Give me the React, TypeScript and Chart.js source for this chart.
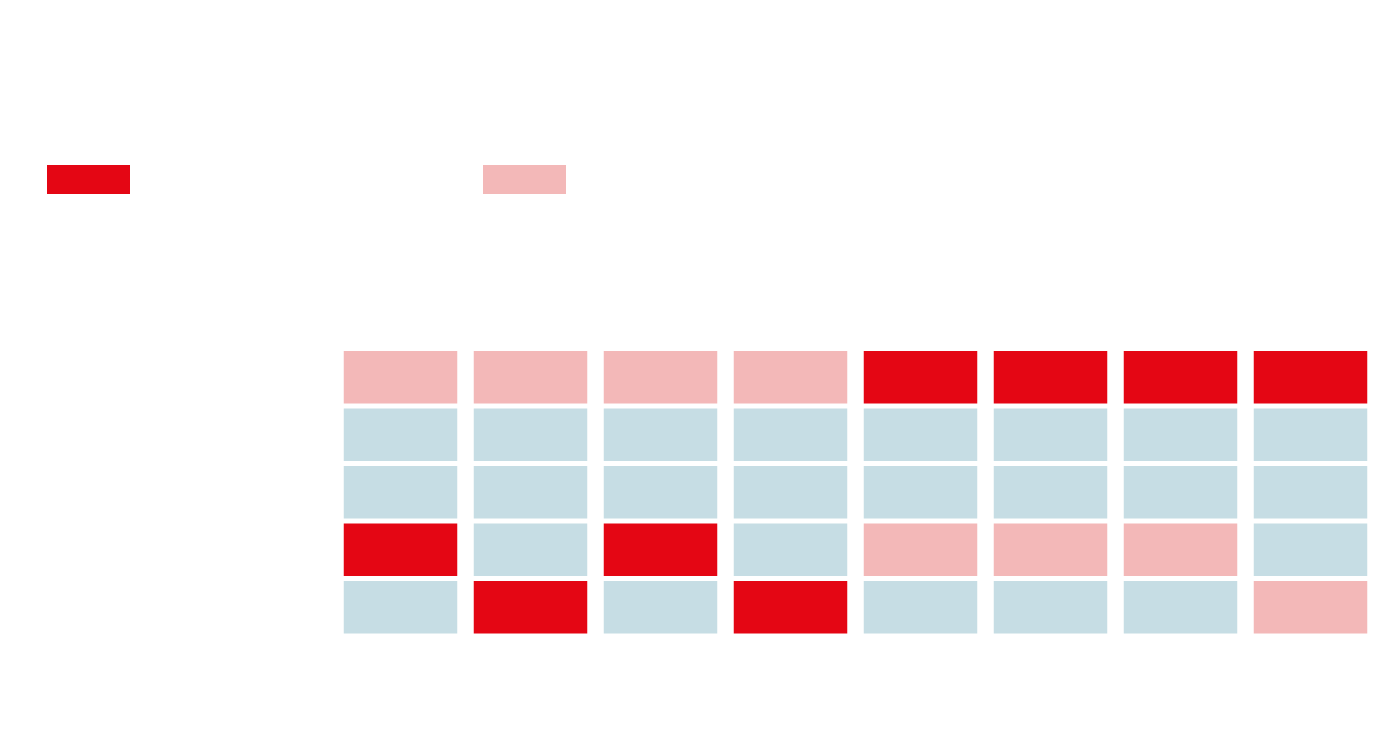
import React, { useEffect, useRef } from "react";
import { Chart, registerables } from "chart.js";

Chart.register(...registerables);

// Categories (columns) and rows of the grid, top row first
const columnLabels = ["1", "2", "3", "4", "5", "6", "7", "8"];
const rowLabels = ["Row 1", "Row 2", "Row 3", "Row 4", "Row 5"];

// For every column: the row (0 = top) holding the highest value, and the one holding the second highest
const firstPlaceRow = [3, 4, 3, 4, 0, 0, 0, 0];
const secondPlaceRow = [0, 0, 0, 0, 3, 3, 3, 4];

// Each cell counts as one unit in its column's stack
const cellUnits = [1, 1, 1, 1, 1, 1, 1, 1];

const RED = "#E40614";
const PINK = "#F3B8B8";
const BLUE = "#C6DDE4";
const legendColors = [RED, PINK];

const swatchLegend = {
  id: "swatchLegend",
  afterDraw(chart: any) {
    const ctx = chart.ctx;
    ctx.save();
    legendColors.forEach((c, i) => {
      ctx.fillStyle = c;
      ctx.fillRect(47 + i * 436, 165, 83, 29);
    });
    ctx.restore();
  },
};

export default function App() {
  const ref = useRef<HTMLCanvasElement | null>(null);

  useEffect(() => {
    if (!ref.current) return;
    const datasets = rowLabels.map((label, r) => ({
      label,
      data: cellUnits.slice(0, columnLabels.length),
      backgroundColor: columnLabels.map((_, c) =>
        firstPlaceRow[c] === r ? RED : secondPlaceRow[c] === r ? PINK : BLUE
      ),
      borderColor: "#ffffff",
      borderWidth: { top: 2.5, bottom: 2.5, left: 0, right: 0 },
      borderSkipped: false as const,
      inflateAmount: 0,
      barPercentage: 114 / 130,
      categoryPercentage: 1,
    }));

    const chart = new Chart(ref.current, {
      type: "bar",
      data: { labels: columnLabels, datasets },
      plugins: [swatchLegend],
      options: {
        animation: false,
        responsive: true,
        maintainAspectRatio: false,
        layout: { padding: { left: 0, right: 24.5, top: 0, bottom: 114 } },
        plugins: {
          legend: { display: false },
          tooltip: { enabled: false },
        },
        scales: {
          x: {
            stacked: true,
            position: "top",
            ticks: { display: false },
            grid: { display: false },
            border: { display: false },
            afterFit: (scale: any) => {
              scale.height = 348.5;
            },
          },
          y: {
            stacked: true,
            reverse: true,
            min: 0,
            max: rowLabels.length,
            ticks: { display: false },
            grid: { display: false },
            border: { display: false },
            afterFit: (scale: any) => {
              scale.width = 335.5;
            },
          },
        },
      },
    });
    return () => chart.destroy();
  }, []);

  return (
    <div style={{ position: "absolute", left: 0, top: 0, width: 1400, height: 750, background: "#fff" }}>
      <canvas ref={ref} />
    </div>
  );
}
